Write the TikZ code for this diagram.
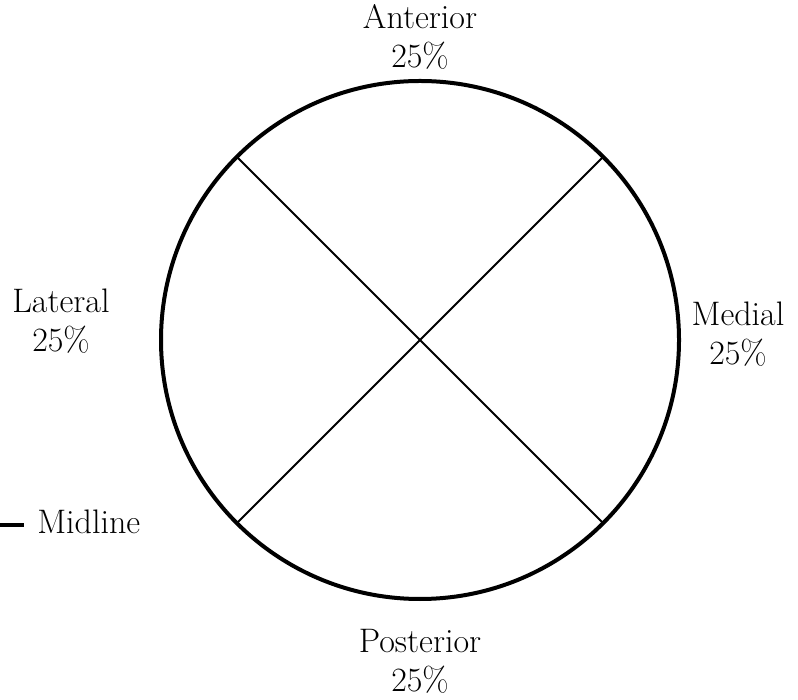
\documentclass[tikz,border=0pt]{standalone}
\usepackage{tikz}
\usetikzlibrary{positioning}

\begin{document}
\begin{tikzpicture}[
  x=0.75pt, y=0.75pt,
  ring/.style={draw, circle, line width=3pt, minimum size=388.5pt, inner sep=0pt, outer sep=0pt},
  quad/.style={line width=1.5pt},
  lbl/.style={align=center, inner sep=0pt, font=\fontsize{25.5}{29}\selectfont},
  legendline/.style={line width=3pt}
]
\useasboundingbox (0,0) rectangle (798,699);
\node[ring] (circ) at (420,359) {};
\draw[quad] (circ.135) -- (circ.315);
\draw[quad] (circ.45) -- (circ.225);
\node[lbl] (ant) at (420,662) {Anterior\\25\%};
\node[lbl] (lat) at (61,378) {Lateral\\25\%};
\node[lbl] (med) at (738,365) {Medial\\25\%};
\node[lbl] (post) at (420,38) {Posterior\\25\%};
\node[lbl, anchor=base west] (mid) at (37,165) {Midline};
\coordinate (midend) at (0,174);
\draw[legendline] (midend) -- ++(24,0);
\end{tikzpicture}
\end{document}
